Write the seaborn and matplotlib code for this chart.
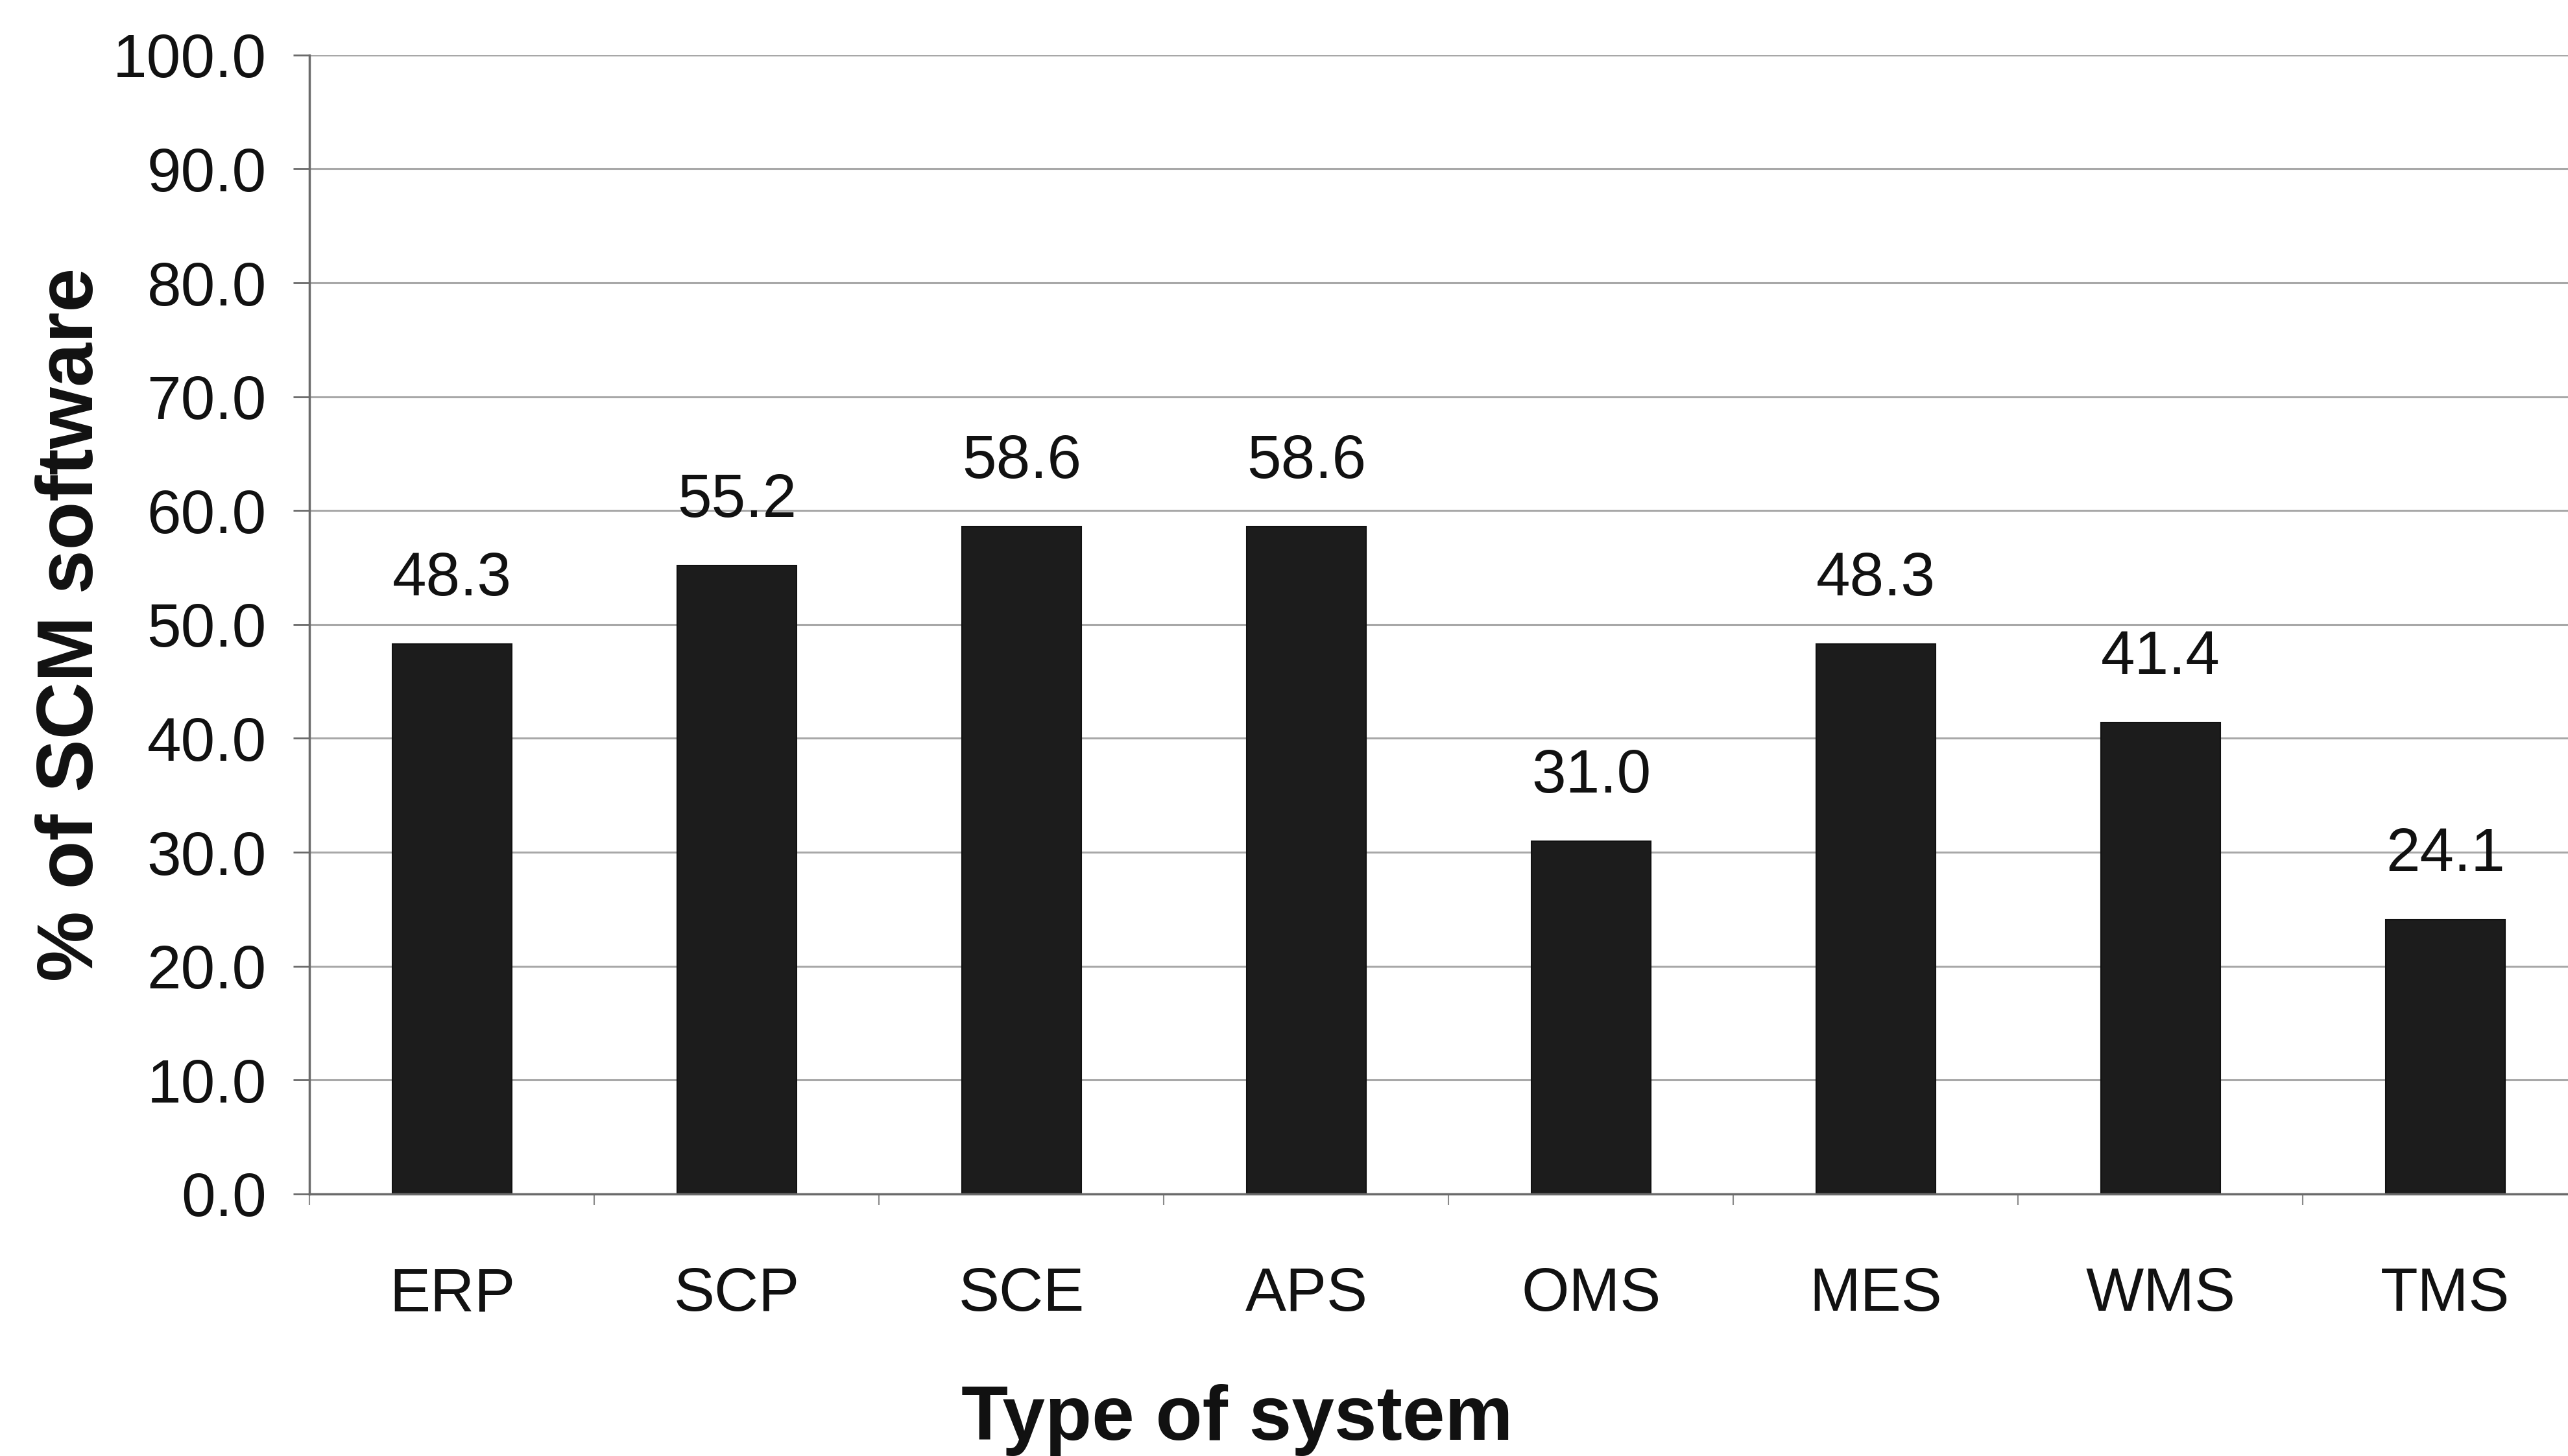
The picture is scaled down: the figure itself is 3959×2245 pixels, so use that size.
import pandas as pd
import seaborn as sns
import matplotlib.pyplot as plt
from matplotlib.ticker import FixedLocator, FormatStrFormatter

# data
systems = ['ERP', 'SCP', 'SCE', 'APS', 'OMS', 'MES', 'WMS', 'TMS']
share = [48.3, 55.2, 58.6, 58.6, 31.0, 48.3, 41.4, 24.1]
y_ticks = [0, 10, 20, 30, 40, 50, 60, 70, 80, 90, 100]

df = pd.DataFrame({'system': systems, 'share': share})

sns.set_style('white')
plt.rcParams['font.family'] = ['Liberation Sans', 'DejaVu Sans']

fig = plt.figure(figsize=(39.59, 22.45), dpi=100)
# the plot runs off the right edge of the picture, as in the scan
ax = fig.add_axes([0.1206, 0.18, 0.8871, 0.7822])

sns.barplot(data=df, x='system', y='share', color='#1c1c1c', saturation=1,
            width=0.42, edgecolor='#111111', linewidth=1.5, ax=ax, zorder=3)

ax.set_xlim(-0.5, len(systems) - 0.5)
ax.set_ylim(0, 100)
ax.set_yticks(y_ticks)
ax.yaxis.set_major_formatter(FormatStrFormatter('%.1f'))
ax.grid(axis='y', color='#a8a8a8', linewidth=2.2, zorder=0)

for s in ['top', 'right']:
    ax.spines[s].set_visible(False)
ax.spines['left'].set_color('#6a6a6a')
ax.spines['left'].set_linewidth(2.5)
ax.spines['bottom'].set_color('#6a6a6a')
ax.spines['bottom'].set_linewidth(2.5)
ax.spines['bottom'].set_zorder(4)

ax.tick_params(axis='y', which='major', left=True, length=18, width=2,
               color='#6a6a6a', pad=30, labelsize=68, labelcolor='#111111')
ax.tick_params(axis='x', which='major', bottom=False, length=0, pad=80,
               labelsize=68, labelcolor='#111111')
ax.xaxis.set_minor_locator(FixedLocator([i - 0.5 for i in range(len(systems) + 1)]))
ax.tick_params(axis='x', which='minor', bottom=True, length=12, width=1.5,
               color='#8a8a8a')

# value labels above bars
for i, v in enumerate(share):
    ax.annotate(f'{v:.1f}', xy=(i, v), xytext=(0, 54), textcoords='offset points',
                ha='center', va='baseline', fontsize=68, color='#111111')

ax.set_xlabel('Type of system', fontsize=85, fontweight='bold', color='#111111')
ax.set_ylabel('% of SCM software', fontsize=88, fontweight='bold', color='#111111')
ax.xaxis.set_label_coords(0.407, -0.167)
ax.yaxis.set_label_coords(-0.088, 0.5)

fig.savefig('out.png', dpi=100, facecolor='white')
